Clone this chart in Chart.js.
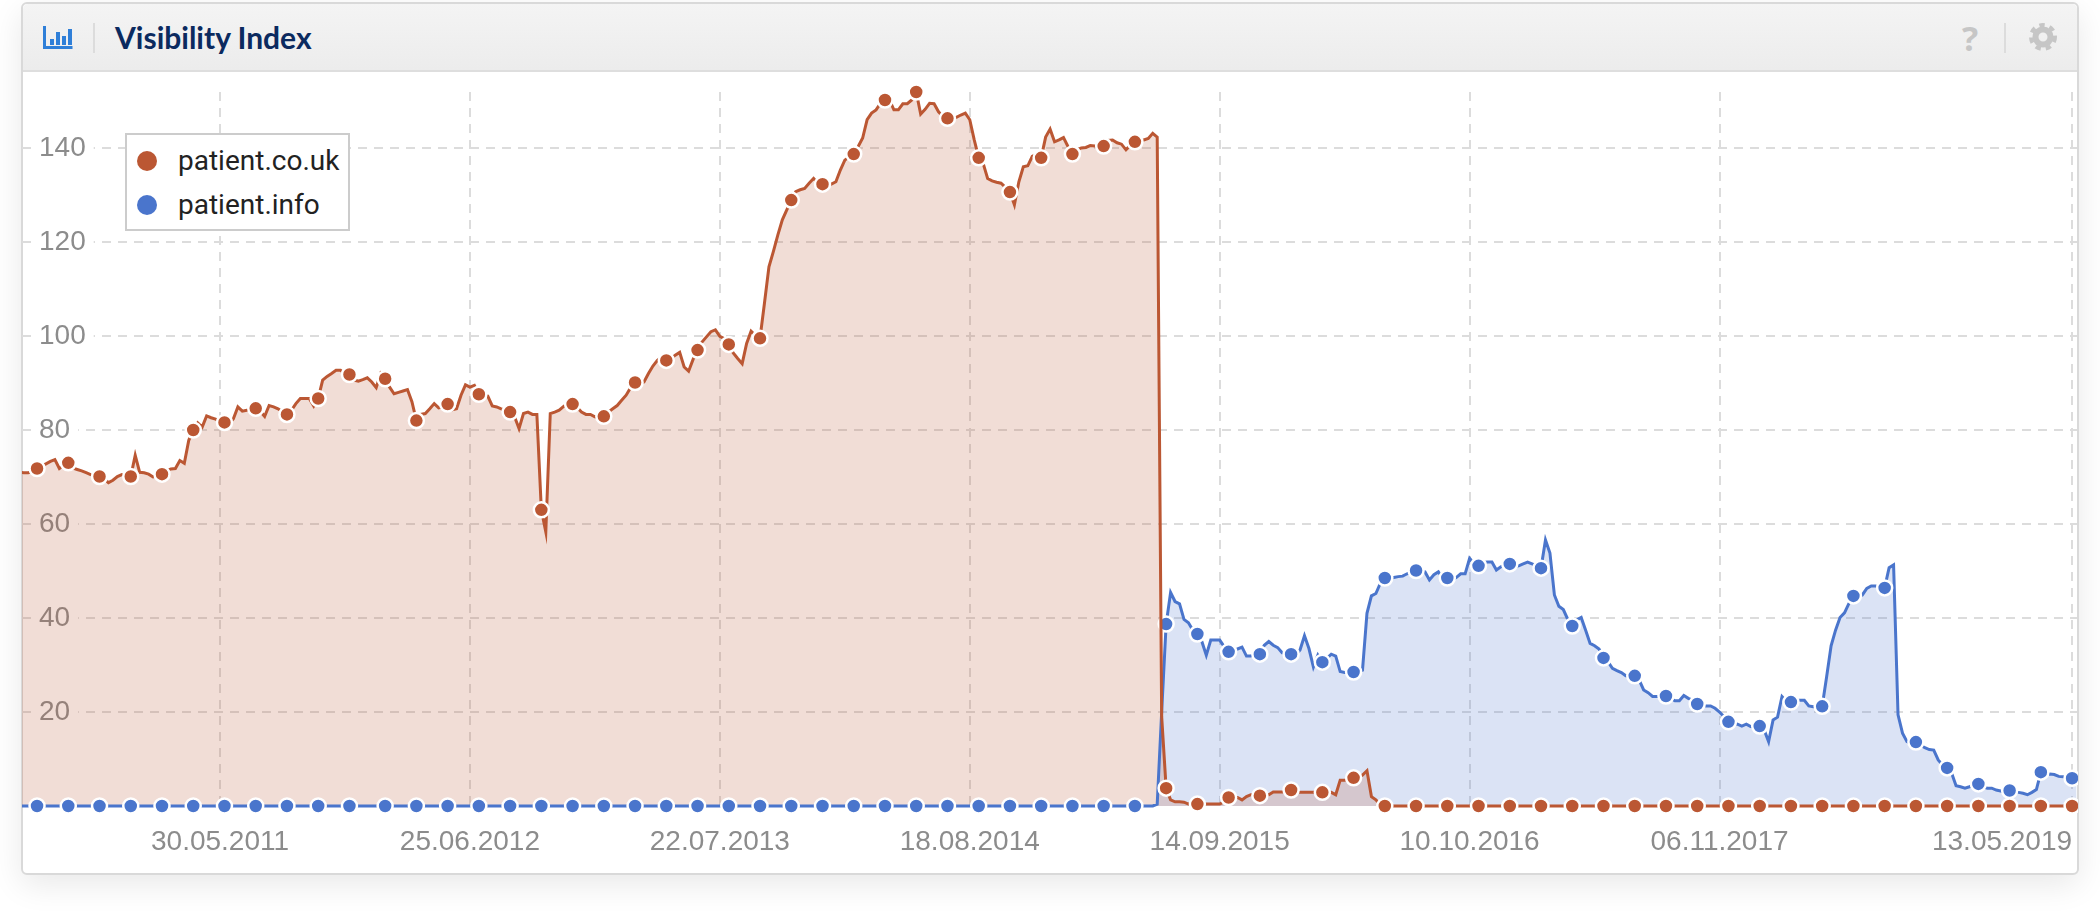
<!DOCTYPE html>
<html>
<head>
<meta charset="utf-8">
<title>Visibility Index</title>
<script src="https://cdn.jsdelivr.net/npm/chart.js@4"></script>
<style>
body { margin: 0; background: #fff; width: 2100px; height: 914px; overflow: hidden; font-family: "Liberation Sans", sans-serif; }
.card { position: absolute; left: 21px; top: 2px; width: 2054px; height: 869px; border: 2px solid #d9d9d9; border-radius: 6px; background: #fff; box-shadow: 0 10px 32px rgba(0,0,0,.09); }
.head { position: absolute; left: 23px; top: 4px; width: 2054px; height: 66px; border-bottom: 2px solid #dedede; background: linear-gradient(#f4f4f4, #ececec); border-radius: 5px 5px 0 0; }
.title { position: absolute; left: 115px; top: 19px; font: 700 30px Lato, sans-serif; color: #0b2a5f; }
.sep { position: absolute; top: 23px; width: 2px; height: 30px; background: #dcdcdc; }
.help { position: absolute; left: 1962px; top: 20px; font: 700 34px "Open Sans", sans-serif; color: #c6c6c6; line-height: 36px; }
#chart { position: absolute; left: 22px; top: 72px; }
.legend { position: absolute; left: 125px; top: 133px; width: 221px; height: 94px; border: 2px solid #ccc; background: #fff; }
.legend div { position: absolute; left: 51px; font: 28px Roboto, sans-serif; color: #222; line-height: 30px; white-space: nowrap; }
.legend i { position: absolute; left: -41px; top: 5px; width: 20px; height: 20px; border-radius: 50%; }
svg { position: absolute; }
</style>
</head>
<body>
<div class="card"></div>
<div class="head"></div>
<svg style="left:43px;top:26px" width="30" height="23" viewBox="0 0 30 23">
  <path d="M1.5 0v21.5h28" fill="none" stroke="#2f7fd8" stroke-width="3"/>
  <rect x="7" y="13" width="4" height="6" fill="#2f7fd8"/>
  <rect x="13" y="6" width="4" height="13" fill="#2f7fd8"/>
  <rect x="19" y="10" width="4" height="9" fill="#2f7fd8"/>
  <rect x="25" y="3" width="4" height="16" fill="#2f7fd8"/>
</svg>
<div class="sep" style="left:93px"></div>
<div class="title">Visibility Index</div>
<div class="help">?</div>
<div class="sep" style="left:2004px"></div>
<svg style="left:2029px;top:23px" width="28" height="28" viewBox="0 0 28 28">
  <circle cx="14" cy="14" r="7.5" fill="none" stroke="#c6c6c6" stroke-width="6"/>
  <circle cx="14" cy="14" r="12" fill="none" stroke="#c6c6c6" stroke-width="4" stroke-dasharray="5.4 5.1"/>
</svg>
<canvas id="chart" width="2056" height="800"></canvas>
<div class="legend" id="legend"></div>
<script>
const seriesNames = ["patient.co.uk", "patient.info"];
const seriesColors = ["#bb5733", "#4a75cc"];
const seriesFills = ["rgba(187,87,51,0.2)", "rgba(74,117,204,0.2)"];

// weekly values, one row is 10 weeks, first week 19.07.2010
const couk = [
  71,70.9,70.9,71.2,71.8,72.3,72.8,73.3,73.7,71.8,
  72.5,73,71.9,71.6,71.3,70.9,70.5,70.2,70.1,69.6,
  68.8,69.3,70.1,70.5,70.3,70.1,74.6,71,70.9,70.6,
  70,70.2,70.6,71.3,71.7,71.8,73.5,72.9,77.8,80,
  81.5,80.6,83,82.6,82.3,81.9,81.6,81.3,82.4,84.9,
  84,84.2,84.5,84.6,84,82.9,85.2,84.9,84.5,83.9,
  83.3,84.2,85.6,86.7,86.7,86.7,85.1,86.7,90.6,91.4,
  92,92.7,92.7,92,91.8,90.6,90.4,90.7,91.1,90.2,
  89,92,90.9,89.1,87.7,88,88.3,88.6,86,82,
  83.3,83.5,84.5,85.6,84.7,84.9,85.5,84.3,84.5,87.4,
  89.6,89.1,89.5,87.6,87.4,87.2,85.1,84.9,84.5,84.2,
  83.8,82.8,80.3,83.5,83.8,83.3,83.3,63,58.3,83.5,
  83.8,84.2,85,85.7,85.5,84.8,83.8,83.3,83.3,82.8,
  82.6,82.9,83.8,84.5,85.2,86.3,87.4,89,90.1,90,
  90.2,92,93.6,94.8,95.5,94.8,95.1,95.9,96.5,93.4,
  92.5,95,97,98.7,99.8,100.9,101.3,99.9,99.4,98.2,
  96.4,95.2,94.1,98.4,101,100.1,99.5,107,114.7,118,
  121.5,124.7,126.8,128.9,130.7,131.1,131.4,132.5,133.5,132.5,
  132.3,132.1,132.3,132.8,135.3,137.4,138.1,138.7,140.3,142.1,
  146,147.4,148.1,149.5,150.2,150.2,148.1,148.1,149.4,149.4,
  150.2,151.9,147.2,148.2,149.5,149.4,147.7,146.7,146.3,146.3,
  146.5,147,147.4,146,141.7,137.9,136.7,133.5,133,132.7,
  132.5,131.6,130.6,127.9,132.8,136,136.2,138.2,138.7,137.9,
  142.3,144,141.3,141.7,142.2,140.3,138.7,139.6,140,140.1,
  140.5,140.4,140.4,140.4,141.6,141.7,141.1,140.8,139.6,140.6,
  141.3,141.7,141.7,142,143.1,142.3,19,3.8,1.3,0.9,
  0.9,0.8,0.4,0.4,0.4,0.4,0.4,0.4,0.4,0.4,
  0.9,1.8,1.8,1.8,1.3,2,2.4,2.4,2.2,2.4,
  2.4,3,3,3,3,3.4,3,2.9,2.9,2.9,
  2.9,2.9,2.9,2.9,2.9,2.4,5.5,5.5,5.7,6,
  6,6.6,7.5,2,1.3,0.2,0,0,0,0,
  0,0,0,0,0,0,0,0,0,0,
  0,0,0,0,0,0,0,0,0,0,
  0,0,0,0,0,0,0,0,0,0,
  0,0,0,0,0,0,0,0,0,0,
  0,0,0,0,0,0,0,0,0,0,
  0,0,0,0,0,0,0,0,0,0,
  0,0,0,0,0,0,0,0,0,0,
  0,0,0,0,0,0,0,0,0,0,
  0,0,0,0,0,0,0,0,0,0,
  0,0,0,0,0,0,0,0,0,0,
  0,0,0,0,0,0,0,0,0,0,
  0,0,0,0,0,0,0,0,0,0,
  0,0,0,0,0,0,0,0,0,0,
  0,0,0,0,0,0,0,0,0,0,
  0,0,0,0,0,0,0,0,0,0,
  0,0
];
const info = [
  0,0,0,0,0,0,0,0,0,0,
  0,0,0,0,0,0,0,0,0,0,
  0,0,0,0,0,0,0,0,0,0,
  0,0,0,0,0,0,0,0,0,0,
  0,0,0,0,0,0,0,0,0,0,
  0,0,0,0,0,0,0,0,0,0,
  0,0,0,0,0,0,0,0,0,0,
  0,0,0,0,0,0,0,0,0,0,
  0,0,0,0,0,0,0,0,0,0,
  0,0,0,0,0,0,0,0,0,0,
  0,0,0,0,0,0,0,0,0,0,
  0,0,0,0,0,0,0,0,0,0,
  0,0,0,0,0,0,0,0,0,0,
  0,0,0,0,0,0,0,0,0,0,
  0,0,0,0,0,0,0,0,0,0,
  0,0,0,0,0,0,0,0,0,0,
  0,0,0,0,0,0,0,0,0,0,
  0,0,0,0,0,0,0,0,0,0,
  0,0,0,0,0,0,0,0,0,0,
  0,0,0,0,0,0,0,0,0,0,
  0,0,0,0,0,0,0,0,0,0,
  0,0,0,0,0,0,0,0,0,0,
  0,0,0,0,0,0,0,0,0,0,
  0,0,0,0,0,0,0,0,0,0,
  0,0,0,0,0,0,0,0,0,0,
  0,0,0,0,0,0.4,20,38.7,45.4,43.5,
  43,39.7,39,37.4,36.6,35,32.1,35.3,35.3,35.3,
  33.9,32.8,33.2,33.4,33.8,31.9,31.9,32.3,32.3,34.2,
  35,34.2,33.7,32.6,32.5,32.3,32.1,33.2,36.2,33.5,
  29.6,32.1,30.6,31.4,32.3,31.9,28.6,28.4,28.4,28.5,
  28.5,28.9,41,44.7,45.2,47.4,48.5,48.4,48.6,48.8,
  48.9,49.4,49.8,50.1,50,49.8,48.1,49.2,49.8,48.4,
  48.5,48.1,48.6,49.4,49.4,52.7,51.6,51.1,51.8,51.9,
  51.9,50.2,50.9,51.3,51.5,50.9,51.1,51.5,51.9,51.5,
  51.1,50.6,56.6,53.8,44.9,42.5,41.8,39.7,38.3,39.6,
  40.1,37.4,34.6,34.1,33.4,31.5,30.7,29.3,28.8,28.4,
  27.7,27.6,27.7,26.8,24.7,24.1,23.3,23.3,23.3,23.4,
  22.9,22.4,22.4,23.5,22.9,22.5,21.7,21.5,21.3,21.3,
  20.8,20,19,17.9,17.7,17.4,17,17.4,16.9,16.7,
  17,16.2,13.7,18.3,18.9,23.3,22.3,22.1,22.5,22.5,
  22.5,21.3,21.1,21.1,21.2,27.5,34.1,37.4,40.1,41.1,
  43.1,44.7,44.5,44.9,46.3,46.8,46.8,46.5,46.4,50.7,
  51.3,19.4,15.5,13.7,13.3,13.6,13,12.4,12,11.9,
  9.8,8.7,8.1,7,4.3,4.1,3.8,4.1,4.5,4.7,
  4.1,3.8,3.8,3.4,3.2,3,3.3,3,2.9,2.7,
  2.4,2.9,3.5,7.2,6.7,6.8,6.7,6.3,6.2,6.2,
  5.9,5.9
];

const yTicks = [20, 40, 60, 80, 100, 120, 140];
const xTickWeeks = [45, 101, 157, 213, 269, 325, 381, 460];
const xTickLabels = ["30.05.2011", "25.06.2012", "22.07.2013", "18.08.2014", "14.09.2015", "10.10.2016", "06.11.2017", "13.05.2019"];

const X_MIN = 0.63;
const TICK_COLOR = "#8c8c8c";
const GRID_COLOR = "#dcdcdc";

// a dot every 7 weeks, one week is missing in the dots around autumn 2011
function hasDot(week) {
  return week <= 74 ? week >= 4 && (week - 4) % 7 === 0 : (week - 82) % 7 === 0 && week >= 82;
}

function fillLayer(values, i) {
  return {
    data: values.map((v, w) => ({ x: w, y: v })),
    borderWidth: 0,
    pointRadius: 0,
    backgroundColor: seriesFills[i],
    fill: "origin",
    order: 10 + i,
    clip: false
  };
}

function lineLayer(values, i) {
  return {
    data: values.map((v, w) => ({ x: w, y: v })),
    borderColor: seriesColors[i],
    borderWidth: 3,
    backgroundColor: seriesColors[i],
    fill: false,
    pointRadius: ctx => hasDot(ctx.dataIndex) ? 7.5 : 0,
    pointBorderColor: "#fff",
    pointBorderWidth: 2.5,
    pointBackgroundColor: seriesColors[i],
    order: i === 0 ? 1 : 2,
    clip: false
  };
}

new Chart(document.getElementById("chart"), {
  type: "line",
  data: {
    datasets: [fillLayer(couk, 0), fillLayer(info, 1), lineLayer(couk, 0), lineLayer(info, 1)]
  },
  options: {
    responsive: false,
    animation: false,
    devicePixelRatio: 1,
    layout: { padding: { top: 20, right: 1, left: 0, bottom: 0 } },
    elements: { line: { tension: 0 } },
    plugins: { legend: { display: false }, tooltip: { enabled: false } },
    scales: {
      x: {
        type: "linear",
        min: X_MIN,
        max: 461.1,
        afterBuildTicks: s => { s.ticks = [X_MIN].concat(xTickWeeks).map(v => ({ value: v })); },
        afterFit: s => { s.height = 66; s.paddingLeft = 0; s.paddingRight = 0; },
        grid: {
          color: ctx => ctx.index === 0 ? "rgba(0,0,0,0)" : GRID_COLOR,
          lineWidth: 2,
          drawTicks: false
        },
        border: { display: false, dash: [9, 7] },
        ticks: {
          autoSkip: false,
          maxRotation: 0,
          align: "inner",
          padding: 19,
          color: TICK_COLOR,
          font: { family: "Liberation Sans", size: 28 },
          callback: v => {
            const k = xTickWeeks.indexOf(v);
            return k < 0 ? "" : xTickLabels[k];
          }
        }
      },
      y: {
        type: "linear",
        min: 0,
        max: 151.9,
        afterBuildTicks: s => { s.ticks = yTicks.map(v => ({ value: v })); },
        afterFit: s => { s.width = 0; s.paddingTop = 0; s.paddingBottom = 0; },
        grid: { color: GRID_COLOR, lineWidth: 2, drawTicks: false },
        border: { display: false, dash: [9, 7] },
        ticks: {
          mirror: true,
          padding: 17,
          color: TICK_COLOR,
          font: { family: "Liberation Sans", size: 28 },
          showLabelBackdrop: true,
          backdropColor: "#fff",
          backdropPadding: { left: 8, right: 8, top: 0, bottom: 0 }
        }
      }
    }
  }
});

// legend box on top of the plot
const legend = document.getElementById("legend");
seriesNames.forEach((name, i) => {
  const row = document.createElement("div");
  row.style.top = (11 + i * 44) + "px";
  row.textContent = name;
  const dot = document.createElement("i");
  dot.style.background = seriesColors[i];
  row.appendChild(dot);
  legend.appendChild(row);
});
</script>
</body>
</html>
